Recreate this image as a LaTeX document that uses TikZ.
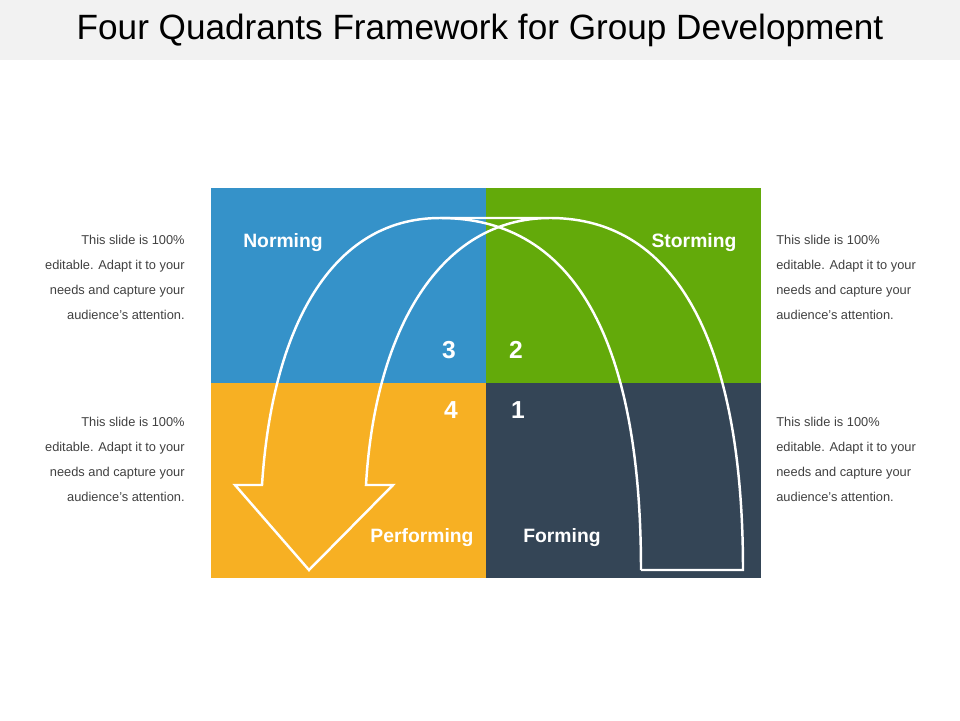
\documentclass[tikz,border=0pt]{standalone}
\usepackage{fontspec}
\setmainfont{Liberation Sans}
\usetikzlibrary{positioning}
\definecolor{qblue}{HTML}{3592C9}
\definecolor{qgreen}{HTML}{63AA0A}
\definecolor{qorange}{HTML}{F7B023}
\definecolor{qdark}{HTML}{344556}
\definecolor{qband}{HTML}{F2F2F2}
\definecolor{qtext}{HTML}{404040}
\tikzset{
    phase/.style={text=white,font=\bfseries\fontsize{11}{13}\selectfont},
    num/.style={text=white,font=\bfseries\fontsize{14}{16}\selectfont},
    note/.style={text=qtext,font=\fontsize{7.3}{14.2}\selectfont,inner sep=0pt},
    ribbon/.style={white,line width=1.4pt,line join=miter}
}
\begin{document}
\begin{tikzpicture}[x=0.02cm,y=-0.02cm]
    \useasboundingbox (0,0) rectangle (960,720);
    %% title band
    \fill[qband] (0,0) rectangle (960,60);
    \node (title) at (480,30) {\fontsize{20}{24}\selectfont Four Quadrants Framework for Group Development};

    %% quadrants
    \fill[qblue] (211,188) rectangle (486,383);
    \fill[qgreen] (486,188) rectangle (761,383);
    \fill[qorange] (211,383) rectangle (486,578);
    \fill[qdark] (486,383) rectangle (761,578);

    %% ribbon arrow
    \draw[ribbon] (641,570) -- (743,570) .. controls (743,350) and (680,218) .. (550,218)
        -- (440,218) .. controls (330,218) and (272,330) .. (262,485)
        -- (235,485) -- (309,570) -- (393,485) -- (366,485)
        .. controls (375,330) and (440,218) .. (550,218);
    \draw[ribbon] (641,570) .. controls (641,370) and (590,218) .. (440,218);

    %% phase labels
    \node[phase] (norming) at (283,243) {Norming};
    \node[phase] (storming) at (694,243) {Storming};
    \node[phase] (performing) at (422,538) {Performing};
    \node[phase] (forming) at (562,538) {Forming};
    \node[num] (n3) at (449,350) {3};
    \node[num] (n2) at (516,350) {2};
    \node[num] (n4) at (451,410) {4};
    \node[num] (n1) at (518,410) {1};

    %% side notes
    \foreach \name/\y in {tl/277,bl/459}
        \node[note,align=right,anchor=east] (\name) at (185,\y) {This slide is 100\%\\editable. Adapt it to your\\needs and capture your\\audience's attention.};
    \foreach \name/\y in {tr/277,br/459}
        \node[note,align=left,anchor=west] (\name) at (776,\y) {This slide is 100\%\\editable. Adapt it to your\\needs and capture your\\audience's attention.};
\end{tikzpicture}
\end{document}
